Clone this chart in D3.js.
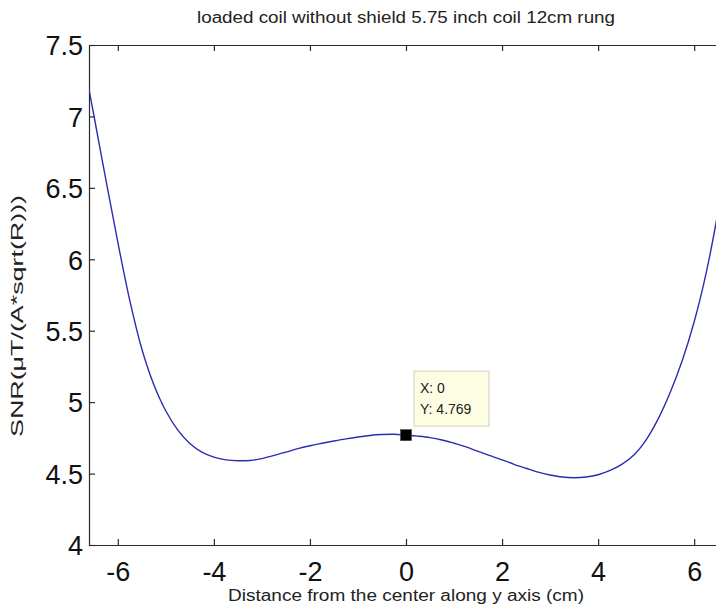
<!DOCTYPE html>
<html>
<head>
<meta charset="utf-8">
<script src="https://cdn.jsdelivr.net/npm/d3@7"></script>
<style>
  html, body { margin: 0; padding: 0; background: #ffffff; }
  svg { display: block; }
  .tick text { font-family: "Liberation Sans", Arial, sans-serif; font-size: 27px; fill: #111; }
  .lbl { font-family: "Liberation Sans", Arial, sans-serif; font-size: 16px; fill: #222; }
</style>
</head>
<body>
<svg id="chart" width="716" height="607"></svg>
<script>
// SNR profile along the y axis of the coil (cm vs. SNR)
const distanceCm = [
  -6.6, -6.5, -6.25, -6.0, -5.75, -5.5, -5.25, -5.0, -4.75, -4.5, -4.25, -4.0,
  -3.75, -3.5, -3.25, -3.0, -2.75, -2.5, -2.25, -2.0, -1.75, -1.5, -1.25, -1.0,
  -0.75, -0.5, -0.25, 0, 0.25, 0.5, 0.75, 1.0, 1.25, 1.5, 1.75, 2.0,
  2.25, 2.5, 2.75, 3.0, 3.25, 3.5, 3.75, 4.0, 4.25, 4.5, 4.75, 5.0,
  5.25, 5.5, 5.75, 6.0, 6.25, 6.5, 6.6
];
const snrValues = [
  7.19, 7.01, 6.56, 6.12, 5.71, 5.372, 5.122, 4.938, 4.804, 4.710, 4.650, 4.615,
  4.596, 4.590, 4.592, 4.605, 4.627, 4.650, 4.675, 4.695, 4.712, 4.728, 4.743, 4.756,
  4.767, 4.773, 4.775, 4.769, 4.762, 4.752, 4.735, 4.712, 4.687, 4.655, 4.625, 4.596,
  4.565, 4.537, 4.510, 4.490, 4.476, 4.471, 4.476, 4.492, 4.522, 4.566, 4.632, 4.736,
  4.883, 5.068, 5.290, 5.563, 5.905, 6.340, 6.550
];
const xTicks = [-6, -4, -2, 0, 2, 4, 6];
const yTicks = [4, 4.5, 5, 5.5, 6, 6.5, 7, 7.5];
const yTickLabels = ["4", "4.5", "5", "5.5", "6", "6.5", "7", "7.5"];
const tipX = 0;
const tipY = 4.769;

const titleText = "loaded coil without shield 5.75 inch coil 12cm rung";
const xLabelText = "Distance from the center along y axis (cm)";
const yLabelText = "SNR(\u03bcT/(A*sqrt(R)))";

const svg = d3.select("#chart");
const plot = { left: 89, top: 45, right: 723, bottom: 545 };

const x = d3.scaleLinear().domain([-6.6, 6.6]).range([plot.left, plot.right]);
const y = d3.scaleLinear().domain([4, 7.5]).range([plot.bottom, plot.top]);

svg.append("defs").append("clipPath").attr("id", "plotClip")
  .append("rect")
  .attr("x", plot.left).attr("y", plot.top)
  .attr("width", plot.right - plot.left).attr("height", plot.bottom - plot.top);

// axes box
const axisColor = "#2a2a2a";
const gx = svg.append("g")
  .attr("transform", `translate(0,${plot.bottom})`)
  .call(d3.axisBottom(x).tickValues(xTicks).tickFormat(d => String(d))
    .tickSizeInner(-6).tickSizeOuter(0).tickPadding(17));
const gxTop = svg.append("g")
  .attr("transform", `translate(0,${plot.top})`)
  .call(d3.axisTop(x).tickValues(xTicks).tickFormat("")
    .tickSizeInner(-6).tickSizeOuter(0));
const gy = svg.append("g")
  .attr("transform", `translate(${plot.left},0)`)
  .call(d3.axisLeft(y).tickValues(yTicks).tickFormat((d, i) => yTickLabels[i])
    .tickSizeInner(-6).tickSizeOuter(0).tickPadding(6));

[gx, gxTop, gy].forEach(g => {
  g.select(".domain").attr("stroke", axisColor).attr("stroke-width", 1.2);
  g.selectAll(".tick line").attr("stroke", axisColor).attr("stroke-width", 1.2);
});
gx.selectAll(".tick text").attr("fill", "#111");
gy.selectAll(".tick text").attr("fill", "#111").attr("dy", "0.36em");

// data curve
const points = distanceCm.map((d, i) => [d, snrValues[i]]);
const line = d3.line()
  .x(d => x(d[0]))
  .y(d => y(d[1]))
  .curve(d3.curveCatmullRom.alpha(0.5));

svg.append("path")
  .datum(points)
  .attr("clip-path", "url(#plotClip)")
  .attr("fill", "none")
  .attr("stroke", "#2c2cb0")
  .attr("stroke-width", 1.4)
  .attr("d", line);

// data tip
const mx = x(tipX), my = y(tipY);
svg.append("rect")
  .attr("x", mx - 5.5).attr("y", my - 5.5)
  .attr("width", 11).attr("height", 11)
  .attr("fill", "#000").attr("stroke", "#444").attr("stroke-width", 0.6);

const tip = svg.append("g").attr("transform", `translate(${mx + 8},${my - 64})`);
tip.append("rect")
  .attr("x", 0).attr("y", 0).attr("width", 75).attr("height", 55)
  .attr("fill", "#fdfde4").attr("stroke", "#cfcfbd").attr("stroke-width", 1);
tip.append("text").attr("class", "lbl").attr("x", 6).attr("y", 22)
  .style("font-size", "14px").style("fill", "#222").text(`X: ${tipX}`);
tip.append("text").attr("class", "lbl").attr("x", 6).attr("y", 43)
  .style("font-size", "14px").style("fill", "#222").text(`Y: ${tipY}`);

// titles
svg.append("text").attr("class", "lbl")
  .attr("x", 406).attr("y", 23).attr("text-anchor", "middle")
  .attr("textLength", 418).attr("lengthAdjust", "spacingAndGlyphs")
  .text(titleText);
svg.append("text").attr("class", "lbl")
  .attr("x", 406).attr("y", 601).attr("text-anchor", "middle")
  .attr("textLength", 356).attr("lengthAdjust", "spacingAndGlyphs")
  .text(xLabelText);
svg.append("text").attr("class", "lbl")
  .attr("transform", "translate(23,316) rotate(-90)")
  .attr("text-anchor", "middle")
  .attr("textLength", 242).attr("lengthAdjust", "spacingAndGlyphs")
  .text(yLabelText);
</script>
</body>
</html>
